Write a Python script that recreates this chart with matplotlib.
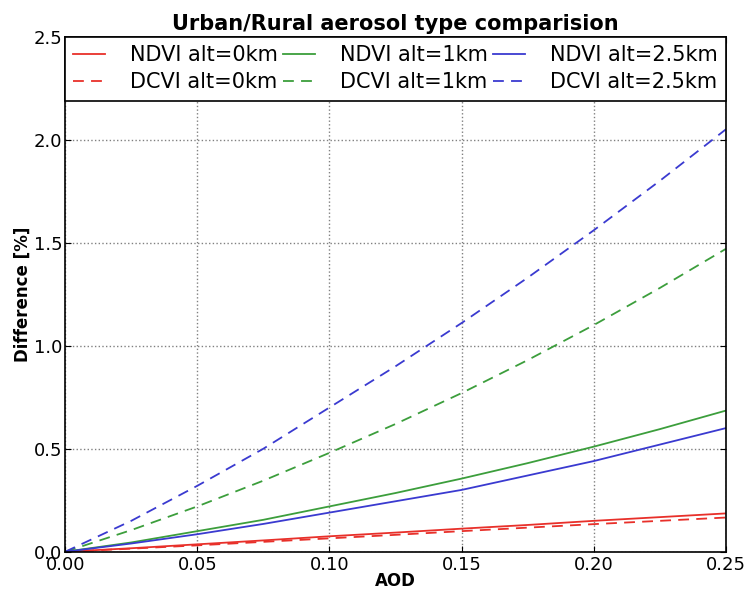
import matplotlib.pyplot as plt
import numpy as np

aod = [0.0, 0.025, 0.05, 0.075, 0.10, 0.125, 0.15, 0.175, 0.20, 0.225, 0.25]

ndvi_0km = [0.0, 0.017, 0.036, 0.055, 0.075, 0.093, 0.112, 0.130, 0.150, 0.168, 0.186]
ndvi_1km = [0.0, 0.045, 0.100, 0.155, 0.220, 0.285, 0.355, 0.430, 0.510, 0.595, 0.685]
ndvi_25km = [0.0, 0.040, 0.085, 0.135, 0.190, 0.245, 0.300, 0.370, 0.440, 0.520, 0.600]
dcvi_0km = [0.0, 0.015, 0.031, 0.048, 0.065, 0.082, 0.100, 0.117, 0.134, 0.150, 0.166]
dcvi_1km = [0.0, 0.105, 0.220, 0.345, 0.480, 0.620, 0.770, 0.930, 1.100, 1.280, 1.470]
dcvi_25km = [0.0, 0.150, 0.320, 0.500, 0.700, 0.900, 1.110, 1.330, 1.560, 1.800, 2.050]

red = '#e8302a'
green = '#3c9e3c'
blue = '#3a3ad0'

fig = plt.figure(figsize=(7.49, 5.92), dpi=100, facecolor='white')
ax = fig.add_axes([0.087, 0.068, 0.882, 0.870])

ax.plot(aod, ndvi_0km, color=red, lw=1.3, label='NDVI alt=0km')
ax.plot(aod, dcvi_0km, color=red, lw=1.3, ls='--', dashes=(6, 4), label='DCVI alt=0km')
ax.plot(aod, ndvi_1km, color=green, lw=1.3, label='NDVI alt=1km')
ax.plot(aod, dcvi_1km, color=green, lw=1.3, ls='--', dashes=(6, 4), label='DCVI alt=1km')
ax.plot(aod, ndvi_25km, color=blue, lw=1.3, label='NDVI alt=2.5km')
ax.plot(aod, dcvi_25km, color=blue, lw=1.3, ls='--', dashes=(6, 4), label='DCVI alt=2.5km')

ax.set_xlim(0, 0.25)
ax.set_ylim(0, 2.5)
ax.set_xticks(np.arange(0, 0.26, 0.05))
ax.set_yticks(np.arange(0, 2.6, 0.5))
ax.tick_params(direction='in', top=True, right=True, labelsize=13, length=4)
ax.tick_params(axis='x', pad=3)
ax.tick_params(axis='y', pad=2)
ax.grid(True, color='0.5', ls=':', lw=1)
for s in ax.spines.values():
    s.set_linewidth(1.2)

ax.set_title('Urban/Rural aerosol type comparision', fontsize=15, fontweight='bold', pad=5)
ax.set_xlabel('AOD', fontsize=12, fontweight='bold')
ax.set_ylabel('Difference [%]', fontsize=12, fontweight='bold')
ax.xaxis.set_label_coords(0.5, -0.04)
ax.yaxis.set_label_coords(-0.05, 0.5)

leg = ax.legend(loc='upper left', ncol=3, mode='expand', bbox_to_anchor=(0, 1, 1, 0),
                fontsize=15, handlelength=1.5, borderaxespad=0, fancybox=False,
                framealpha=1, columnspacing=0.3, handletextpad=1.2, borderpad=0.4,
                labelspacing=0.35)
leg.get_frame().set_edgecolor('black')
leg.get_frame().set_linewidth(1.2)

fig.savefig('out.png', dpi=100, facecolor='white')
